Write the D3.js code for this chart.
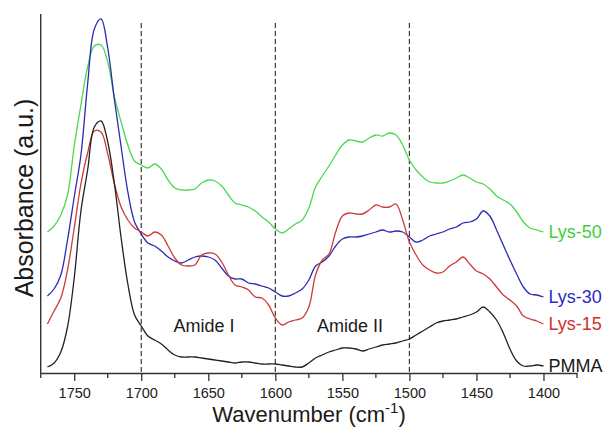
<!DOCTYPE html>
<html>
<head>
<meta charset="utf-8">
<script src="https://cdn.jsdelivr.net/npm/d3@7"></script>
<style>
  html, body { margin: 0; padding: 0; background: #fff; }
  svg { display: block; font-family: "Liberation Sans", Arial, sans-serif; }
</style>
</head>
<body>
<svg id="chart" width="612" height="429"></svg>
<script>
// Wavenumber grid (cm-1), 1770 -> 1400 in steps of 5
const wavenumbers = [
  1770,1765,1760,1755,1750,1745,1740,1735,1730,1725,
  1720,1715,1710,1705,1700,1695,1690,1685,1680,1675,
  1670,1665,1660,1655,1650,1645,1640,1635,1630,1625,
  1620,1615,1610,1605,1600,1595,1590,1585,1580,1575,
  1570,1565,1560,1555,1550,1545,1540,1535,1530,1525,
  1520,1515,1510,1505,1500,1495,1490,1485,1480,1475,
  1470,1465,1460,1455,1450,1445,1440,1435,1430,1425,
  1420,1415,1410,1405,1400
];

// Absorbance (a.u., stacked as plotted)
const lys50 = [
  141,147,158,178,227,268,306,327,328,311,
  276,251,228,212,208,205,209,204,193,185,
  183,183,184,190,193,192,187,178,170,168,
  166,162,156,151,144,140,144,149,153,165,
  186,197,207,218,228,233,232,231,235,238,
  237,240,238,228,213,203,196,191,190,190,
  192,195,198,195,191,189,184,177,173,169,
  161,151,145,143,141
];
const lys30 = [
  77,84,98,133,176,218,289,344,354,325,
  273,226,181,151,139,130,127,122,116,112,
  110,113,116,117,116,113,105,97,94,94,
  90,89,87,85,81,77,77,80,84,93,
  107,111,117,127,134,136,136,137,139,141,
  143,141,142,141,136,131,133,137,139,141,
  144,146,150,151,154,162,157,143,128,113,
  99,86,79,78,76
];
const lys15 = [
  49,62,75,103,145,189,220,242,241,219,
  189,166,153,145,141,137,141,138,127,115,
  108,107,108,118,120,119,111,98,88,86,
  83,76,75,68,55,48,51,53,55,66,
  98,113,119,141,157,160,159,159,163,168,
  166,166,169,153,131,118,108,103,100,101,
  107,111,116,109,102,99,94,86,78,73,
  67,57,54,52,49
];
const pmma = [
  6,10,21,46,95,162,203,246,252,231,
  189,135,89,58,47,37,33,29,23,18,
  16,16,16,15,14,13,12,11,10,11,
  11,10,9,9,9,8,7,6,6,10,
  15,18,21,23,25,25,24,22,24,26,
  28,29,30,32,34,38,42,46,50,52,
  53,54,56,58,61,66,61,53,40,24,
  12,7,7,8,7
];

const seriesNames = ["Lys-50", "Lys-30", "Lys-15", "PMMA"];
const seriesColors = ["#4cd84c", "#2b2bb3", "#cc3a3a", "#222222"];
const labelColors = ["#3ccf3c", "#2a2ac4", "#d03030", "#1a1a1a"];
const seriesValues = [lys50, lys30, lys15, pmma];

const majorTicks = [1750, 1700, 1650, 1600, 1550, 1500, 1450, 1400];
const minorTicks = [1775, 1725, 1675, 1625, 1575, 1525, 1475, 1425, 1375];
const dashedAt = [1700, 1600, 1500];
const regionLabels = [
  { text: "Amide I", at: 1676 },
  { text: "Amide II", at: 1569 }
];

const svg = d3.select("#chart");

const x = d3.scaleLinear().domain([1775, 1375]).range([40.7, 577]);
const y = d3.scaleLinear().domain([0, 360]).range([373, 13]);

// dashed guide lines
svg.append("g").selectAll("line")
  .data(dashedAt).join("line")
  .attr("x1", d => x(d)).attr("x2", d => x(d))
  .attr("y1", 23).attr("y2", y(0))
  .attr("stroke", "#3a3a3a").attr("stroke-width", 1.2)
  .attr("stroke-dasharray", "5,3");

// curves
const line = d3.line()
  .x((d, i) => x(wavenumbers[i]))
  .y(d => y(d))
  .curve(d3.curveCatmullRom.alpha(0.5));

svg.append("g").selectAll("path")
  .data(seriesValues).join("path")
  .attr("d", d => line(d))
  .attr("fill", "none")
  .attr("stroke", (d, i) => seriesColors[i])
  .attr("stroke-width", 1.3)
  .attr("stroke-linejoin", "round");

// series labels
svg.append("g").selectAll("text")
  .data(seriesNames).join("text")
  .attr("x", x(1400) + 5)
  .attr("y", (d, i) => y(seriesValues[i][seriesValues[i].length - 1]) + 6)
  .attr("fill", (d, i) => labelColors[i])
  .attr("font-size", 18)
  .text(d => d);

// region labels
svg.append("g").selectAll("text")
  .data(regionLabels).join("text")
  .attr("x", d => x(d.at))
  .attr("y", 332)
  .attr("font-size", 18)
  .attr("fill", "#1a1a1a")
  .text(d => d.text);

// x axis
const axisG = svg.append("g").attr("transform", `translate(0,${y(0)})`);
axisG.call(d3.axisBottom(x).tickValues(majorTicks).tickFormat(d3.format("d")).tickSize(8).tickSizeOuter(0))
  .call(g => g.select(".domain").attr("stroke", "#333").attr("stroke-width", 1.4))
  .call(g => g.selectAll(".tick line").attr("stroke", "#333").attr("stroke-width", 1.3))
  .call(g => g.selectAll(".tick text").attr("font-size", 14.5).attr("fill", "#222")
    .attr("font-family", "'Liberation Sans', Arial, sans-serif").attr("dy", "0").attr("y", 25));
axisG.append("g").selectAll("line")
  .data(minorTicks).join("line")
  .attr("x1", d => x(d)).attr("x2", d => x(d))
  .attr("y1", 0).attr("y2", 5)
  .attr("stroke", "#333").attr("stroke-width", 1.3);

// y axis (line only)
svg.append("line")
  .attr("x1", x(1775)).attr("x2", x(1775))
  .attr("y1", 14).attr("y2", y(0))
  .attr("stroke", "#333").attr("stroke-width", 1.4);

// axis titles
const xt = svg.append("text")
  .attr("x", 309).attr("y", 422)
  .attr("text-anchor", "middle")
  .attr("font-size", 22).attr("fill", "#1a1a1a");
xt.append("tspan").text("Wavenumber (cm");
xt.append("tspan").attr("font-size", 15).attr("dy", -9).text("-1");
xt.append("tspan").attr("dy", 9).text(")");

svg.append("text")
  .attr("transform", "translate(33,198) rotate(-90)")
  .attr("text-anchor", "middle")
  .attr("font-size", 25).attr("fill", "#1a1a1a")
  .text("Absorbance (a.u.)");
</script>
</body>
</html>
